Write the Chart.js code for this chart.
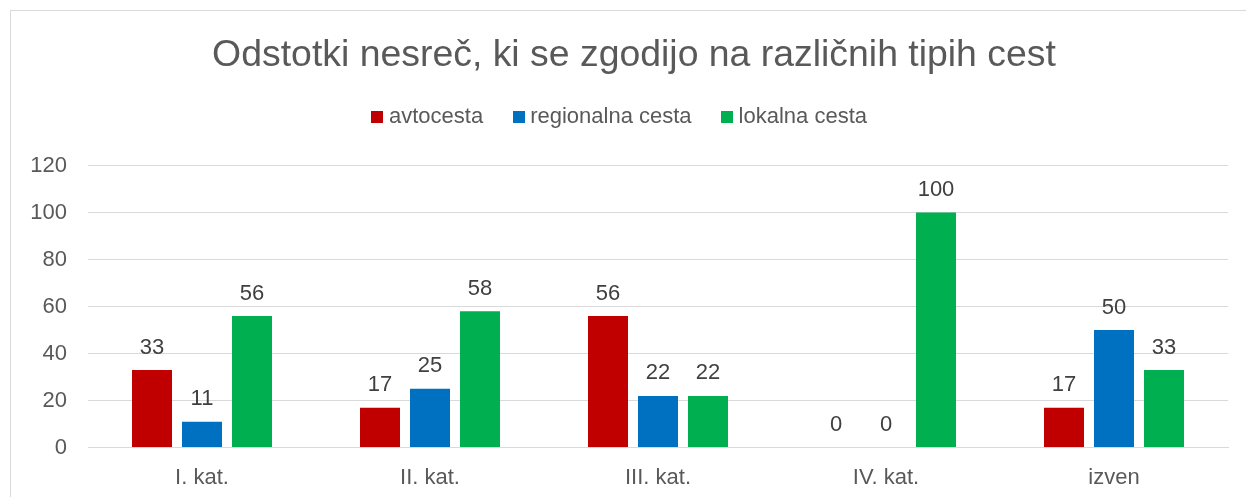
<!DOCTYPE html>
<html><head><meta charset="utf-8">
<script src="https://cdn.jsdelivr.net/npm/chart.js@4"></script>
<style>html,body{margin:0;padding:0;background:#fff}#wrap{width:1246px;height:497px;position:relative}</style>
</head><body><div id="wrap"><canvas id="c"></canvas></div>
<script>
const categories = ["I. kat.", "II. kat.", "III. kat.", "IV. kat.", "izven"];
const seriesNames = ["avtocesta", "regionalna cesta", "lokalna cesta"];
const avtocesta = [33, 17, 56, 0, 17];
const regionalnaCesta = [11, 25, 22, 0, 50];
const lokalnaCesta = [56, 58, 22, 100, 33];
const yTicks = [0, 20, 40, 60, 80, 100, 120];
const titleText = "Odstotki nesreč, ki se zgodijo na različnih tipih cest";

const colors = ["#C00000", "#0070C0", "#00B050"];
const FONT = "'Liberation Sans', Arial, sans-serif";
const TXT = "#595959";

function squareMarker(color) {
  const c = document.createElement('canvas');
  c.width = 12; c.height = 12;
  const g = c.getContext('2d');
  g.fillStyle = color; g.fillRect(0, 0, 12, 12);
  return c;
}
const markers = colors.map(squareMarker);

const borderPlugin = {
  id: 'frame',
  beforeDraw(chart) {
    const ctx = chart.ctx;
    ctx.save();
    ctx.fillStyle = '#fff';
    ctx.fillRect(0, 0, chart.width, chart.height);
    ctx.strokeStyle = '#d9d9d9';
    ctx.lineWidth = 1;
    ctx.strokeRect(10.5, 10.5, chart.width + 20, chart.height + 20);
    ctx.restore();
  }
};

const valueLabels = {
  id: 'valueLabels',
  afterDatasetsDraw(chart) {
    const ctx = chart.ctx;
    ctx.save();
    ctx.font = "22px " + FONT;
    ctx.fillStyle = "#404040";
    ctx.textAlign = 'center';
    ctx.textBaseline = 'middle';
    chart.data.datasets.forEach((ds, i) => {
      const meta = chart.getDatasetMeta(i);
      meta.data.forEach((bar, j) => {
        ctx.fillText(String(ds.data[j]), bar.x, bar.y - 22.5);
      });
    });
    ctx.restore();
  }
};

const headerAdjust = {
  id: 'headerAdjust',
  beforeInit(chart) {
    const orig = chart.legend.fit;
    chart.legend.fit = function () { orig.call(this); this.height += 28; };
  },
  afterLayout(chart) {
    const t = chart.titleBlock;
    if (t) { t.left += 20; t.right += 20; }
    const l = chart.legend;
    if (l) { l.left += 8; l.right += 8; }
  }
};

new Chart(document.getElementById('c'), {
  type: 'bar',
  data: {
    labels: categories,
    datasets: [
      { label: seriesNames[0], data: avtocesta, backgroundColor: colors[0] },
      { label: seriesNames[1], data: regionalnaCesta, backgroundColor: colors[1] },
      { label: seriesNames[2], data: lokalnaCesta, backgroundColor: colors[2] }
    ]
  },
  plugins: [borderPlugin, valueLabels, headerAdjust],
  options: {
    responsive: true,
    maintainAspectRatio: false,
    animation: false,
    datasets: { bar: { categoryPercentage: 150 / 228, barPercentage: 0.8 } },
    layout: { padding: { left: 0, right: 18, top: 0, bottom: -11 } },
    plugins: {
      title: {
        display: true, text: titleText, color: TXT,
        font: { family: FONT, size: 37.4, weight: 'normal' },
        padding: { top: 33, bottom: -7.3 }
      },
      legend: {
        display: true, position: 'top',
        labels: {
          color: TXT, usePointStyle: true, boxWidth: 1, boxHeight: 12, padding: 35,
          font: { family: FONT, size: 22 },
          generateLabels(chart) {
            const items = Chart.defaults.plugins.legend.labels.generateLabels(chart);
            items.forEach((it, i) => { it.pointStyle = markers[i]; });
            return items;
          }
        }
      },
      tooltip: { enabled: false }
    },
    scales: {
      x: {
        grid: { display: false, drawTicks: false },
        border: { display: true, color: '#d9d9d9' },
        ticks: { color: TXT, padding: 17, font: { family: FONT, size: 22 } }
      },
      y: {
        min: yTicks[0], max: yTicks[yTicks.length - 1],
        afterFit(s) { s.width = 88; },
        afterBuildTicks(s) { s.ticks = yTicks.map(v => ({ value: v })); },
        grid: { color: '#d9d9d9', drawTicks: false },
        border: { display: false },
        ticks: { color: TXT, padding: 21, font: { family: FONT, size: 22 } }
      }
    }
  }
});
</script>
</body></html>
